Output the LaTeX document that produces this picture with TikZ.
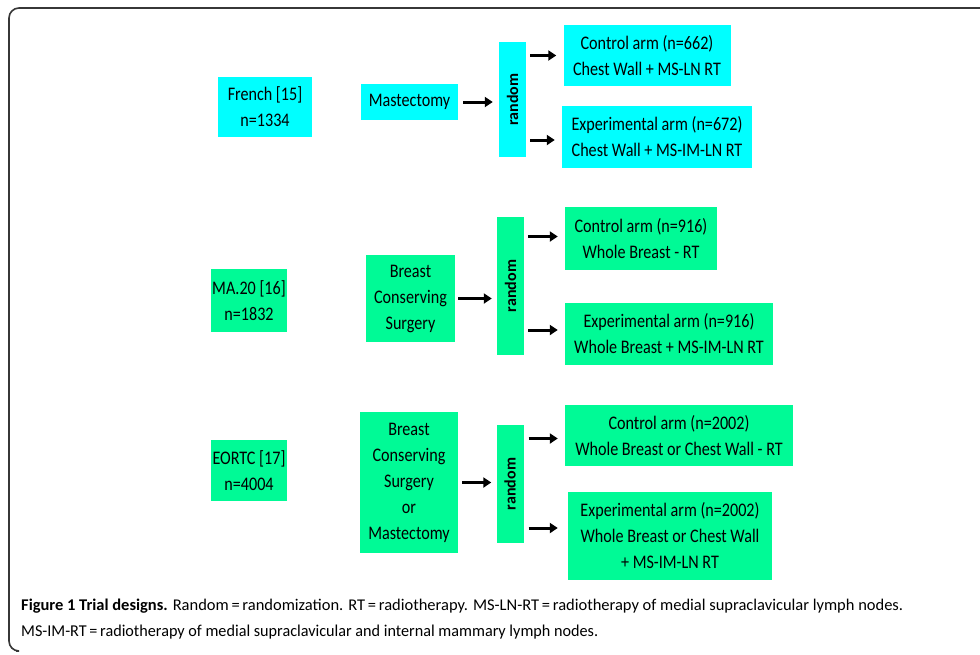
\documentclass[tikz,border=0pt]{standalone}
\usepackage{fontspec}
\setmainfont{Carlito}
\newfontfamily\boxfont[FakeStretch=0.84]{Carlito}
\newfontfamily\capfont{Carlito}
\usetikzlibrary{arrows.meta}
\definecolor{cyanbox}{RGB}{0,255,255}
\definecolor{greenbox}{RGB}{0,250,150}
\definecolor{framegray}{RGB}{55,55,55}
\tikzset{
  box/.style={rectangle, inner sep=0pt, align=center, text=black,
    font=\boxfont\fontsize{19.2}{26}\selectfont},
  cbox/.style={box, fill=cyanbox},
  gbox/.style={box, fill=greenbox},
  randbox/.style={rectangle, inner sep=0pt, minimum width=27pt,
    font=\bfseries\fontsize{16}{18}\selectfont},
  arr/.style={line width=3pt, -{Triangle[length=8pt,width=10pt]}},
  frame/.style={draw=framegray, line width=1.6pt},
  capnode/.style={anchor=base west, inner sep=0pt}
}
\begin{document}
\begin{tikzpicture}[x=1pt,y=-1pt]
\useasboundingbox (0,0) rectangle (980,654);
% frame
\draw[frame, rounded corners=10pt] (981,8) -- (9,8) -- (9,651) -- (16,651);

% ---- row 1 (French)
\node[cbox, minimum width=94pt, minimum height=60pt] (french) at (265,107) {French [15]\\n=1334};
\node[cbox, minimum width=97pt, minimum height=36pt] (mast1) at (409.5,102) {Mastectomy};
\node[randbox, fill=cyanbox, minimum height=115pt] (rand1) at (512.5,99.5) {\rotatebox{90}{random}};
\node[cbox, minimum width=167pt, minimum height=61pt] (ctrl1) at (647,55.5) {Control arm (n=662)\\Chest Wall + MS-LN RT};
\node[cbox, minimum width=190pt, minimum height=62pt] (exp1) at (657,137) {Experimental arm (n=672)\\Chest Wall + MS-IM-LN RT};

% ---- row 2 (MA.20)
\node[gbox, minimum width=76pt, minimum height=63pt] (ma20) at (249,300.5) {MA.20 [16]\\n=1832};
\node[gbox, minimum width=89pt, minimum height=87pt] (bcs2) at (410.5,298.5) {Breast\\Conserving\\Surgery};
\node[randbox, fill=greenbox, minimum height=138pt] (rand2) at (510.5,286) {\rotatebox{90}{random}};
\node[gbox, minimum width=152pt, minimum height=63pt] (ctrl2) at (641,238.5) {Control arm (n=916)\\Whole Breast - RT};
\node[gbox, minimum width=208pt, minimum height=62pt] (exp2) at (669,334) {Experimental arm (n=916)\\Whole Breast + MS-IM-LN RT};

% ---- row 3 (EORTC)
\node[gbox, minimum width=76pt, minimum height=61pt] (eortc) at (249,470.5) {EORTC [17]\\n=4004};
\node[gbox, minimum width=98pt, minimum height=141pt] (bcs3) at (409,482.5) {Breast\\Conserving\\Surgery\\or\\Mastectomy};
\node[randbox, fill=greenbox, minimum height=118pt] (rand3) at (510,484) {\rotatebox{90}{random}};
\node[gbox, minimum width=228pt, minimum height=61pt] (ctrl3) at (679,435.5) {Control arm (n=2002)\\Whole Breast or Chest Wall - RT};
\node[gbox, minimum width=204pt, minimum height=88pt] (exp3) at (670,536) {Experimental arm (n=2002)\\Whole Breast or Chest Wall\\+ MS-IM-LN RT};

% ---- arrows
\draw[arr, shorten <=5pt, shorten >=6pt] (mast1.east) -- (mast1.east -| rand1.west);
\draw[arr, shorten <=4pt, shorten >=7pt] (rand1.east |- ctrl1.west) -- (ctrl1.west);
\draw[arr, shorten <=4pt, shorten >=7pt] ([yshift=-3pt]rand1.east |- exp1.west) -- ([yshift=-3pt]exp1.west);

\draw[arr, shorten <=3pt, shorten >=5pt] (bcs2.east) -- (bcs2.east -| rand2.west);
\draw[arr, shorten <=4pt, shorten >=7pt] ([yshift=2pt]rand2.east |- ctrl2.west) -- ([yshift=2pt]ctrl2.west);
\draw[arr, shorten <=4pt, shorten >=7pt] ([yshift=4pt]rand2.east |- exp2.west) -- ([yshift=4pt]exp2.west);

\draw[arr, shorten <=4pt, shorten >=5pt] (bcs3.east) -- (bcs3.east -| rand3.west);
\draw[arr, shorten <=5pt, shorten >=7pt] ([yshift=-3pt]rand3.east |- ctrl3.west) -- ([yshift=-3pt]ctrl3.west);
\draw[arr, shorten <=5pt, shorten >=10pt] ([yshift=8pt]rand3.east |- exp3.west) -- ([yshift=8pt]exp3.west);

% ---- caption
\node[capnode] (cap1) at (21,610) {\resizebox{882pt}{11.5pt}{\capfont\textbf{Figure 1 Trial designs.} Random\,=\,randomization. RT\,=\,radiotherapy. MS-LN-RT\,=\,radiotherapy of medial supraclavicular lymph nodes.}};
\node[capnode] (cap2) at (21,636) {\resizebox{577pt}{11.5pt}{\capfont MS-IM-RT\,=\,radiotherapy of medial supraclavicular and internal mammary lymph nodes.}};
\end{tikzpicture}
\end{document}
